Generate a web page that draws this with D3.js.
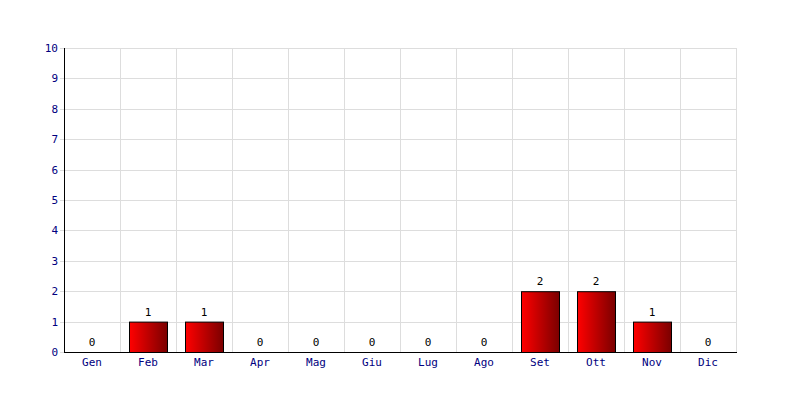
<!DOCTYPE html>
<html><head><meta charset="utf-8">
<script src="https://cdn.jsdelivr.net/npm/d3@7"></script>
<style>body{margin:0;background:#fff}svg{display:block}</style>
</head><body>
<script>
const months = ["Gen","Feb","Mar","Apr","Mag","Giu","Lug","Ago","Set","Ott","Nov","Dic"];
const values = [0,1,1,0,0,0,0,0,2,2,1,0];
const yTicks = [0,1,2,3,4,5,6,7,8,9,10];

const W=800,H=400, m={left:64,right:64,top:48,bottom:48};
const svg=d3.select("body").append("svg").attr("width",W).attr("height",H);
const defs=svg.append("defs");
const g=defs.append("linearGradient").attr("id","bg").attr("x1","0%").attr("x2","100%").attr("y1","0%").attr("y2","0%");
g.append("stop").attr("offset","0%").attr("stop-color","#ff0000");
g.append("stop").attr("offset","100%").attr("stop-color","#7a0000");

const x=d3.scaleBand().domain(months).range([m.left,W-m.right]);
const y=d3.scaleLinear().domain([0,10]).range([H-m.bottom,m.top]);
const font="'DejaVu Sans Mono', monospace";

// grid
svg.append("g").selectAll("line.h").data(yTicks).join("line")
 .attr("x1",m.left-4).attr("x2",W-m.right).attr("y1",d=>Math.round(y(d))+0.5).attr("y2",d=>Math.round(y(d))+0.5)
 .attr("stroke","#dddddd");
svg.append("g").selectAll("line.v").data(months.slice(1).concat(["__end"])).join("line")
 .attr("x1",(d,i)=>m.left+x.step()*(i+1)+0.5).attr("x2",(d,i)=>m.left+x.step()*(i+1)+0.5)
 .attr("y1",m.top).attr("y2",H-m.bottom).attr("stroke","#dddddd");

// bars
const bw=38;
svg.append("g").selectAll("rect").data(values.map((v,i)=>({m:months[i],v}))).join("rect")
 .filter(d=>d.v>0)
 .attr("x",d=>x(d.m)+x.bandwidth()/2-bw/2+0.5).attr("width",bw)
 .attr("y",d=>y(d.v)+0.5).attr("height",d=>y(0)-y(d.v))
 .attr("fill","url(#bg)").attr("stroke","#000").attr("stroke-width",1);

// value labels
svg.append("g").selectAll("text").data(values.map((v,i)=>({m:months[i],v}))).join("text")
 .attr("x",d=>x(d.m)+x.bandwidth()/2).attr("y",d=>y(d.v)-6)
 .attr("text-anchor","middle").attr("font-family",font).attr("font-size",11).attr("fill","#000")
 .text(d=>d.v);

// y labels
svg.append("g").selectAll("text").data(yTicks).join("text")
 .attr("x",m.left-6).attr("y",d=>y(d)+4).attr("text-anchor","end")
 .attr("font-family",font).attr("font-size",11).attr("fill","#000080").text(d=>d);

// x labels
svg.append("g").selectAll("text").data(months).join("text")
 .attr("x",d=>x(d)+x.bandwidth()/2).attr("y",H-m.bottom+14).attr("text-anchor","middle")
 .attr("font-family",font).attr("font-size",11).attr("fill","#000080").text(d=>d);

// axes lines
svg.append("line").attr("x1",m.left+0.5).attr("x2",m.left+0.5).attr("y1",m.top).attr("y2",H-m.bottom+1).attr("stroke","#000");
svg.append("line").attr("x1",m.left).attr("x2",W-m.right+1).attr("y1",H-m.bottom+0.5).attr("y2",H-m.bottom+0.5).attr("stroke","#000");
</script>
</body></html>
